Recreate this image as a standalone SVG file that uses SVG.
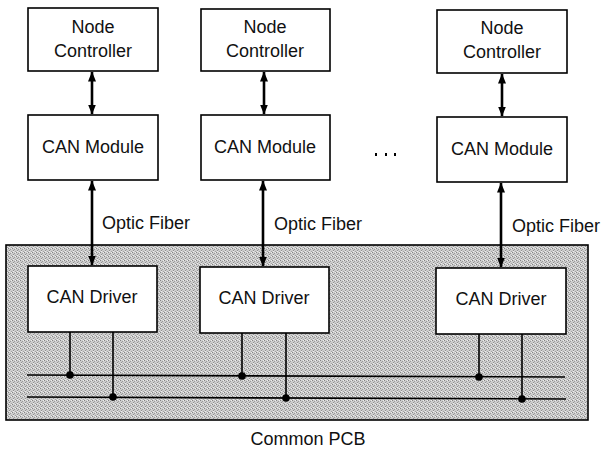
<svg xmlns="http://www.w3.org/2000/svg" width="606" height="452" viewBox="0 0 606 452">
  <style>
    .box { fill: #ffffff; stroke: #000000; stroke-width: 1.6; }
    .lbl { font-family: "Liberation Sans", Arial, sans-serif; font-size: 18px; fill: #111111; text-anchor: middle; }
    .side { font-family: "Liberation Sans", Arial, sans-serif; font-size: 18px; fill: #111111; }
    .link { stroke: #000000; stroke-width: 2.6; fill: none; marker-start: url(#head); marker-end: url(#head); }
    .wire { stroke: #000000; stroke-width: 1.6; fill: none; }
    .tap { fill: #000000; }
  </style>
  <defs>
    <marker id="head" viewBox="0 0 10 8" refX="9.5" refY="4" markerWidth="10" markerHeight="8" markerUnits="userSpaceOnUse" orient="auto-start-reverse">
      <path d="M0,0 L10,4 L0,8 Z" fill="#000000"/>
    </marker>
    <!-- fine halftone texture for the board area -->
    <pattern id="halftone" width="4" height="4" patternUnits="userSpaceOnUse">
      <rect width="4" height="4" fill="#cdcdcd"/>
      <rect x="0" y="0" width="1" height="1" fill="#858585"/>
      <rect x="2" y="1" width="1" height="1" fill="#9a9a9a"/>
      <rect x="1" y="2" width="1" height="1" fill="#909090"/>
      <rect x="3" y="3" width="1" height="1" fill="#a2a2a2"/>
      <rect x="3" y="0" width="1" height="1" fill="#eeeeee"/>
      <rect x="1" y="3" width="1" height="1" fill="#ececec"/>
    </pattern>
  </defs>

  <rect width="606" height="452" fill="#ffffff"/>

  <!-- common board -->
  <g id="pcb">
    <rect x="6" y="245" width="582" height="175" fill="url(#halftone)" stroke="#000000" stroke-width="1.6"/>
    <text class="lbl" x="308" y="445">Common PCB</text>
  </g>

  <!-- column 1 -->
  <g id="nc1">
    <rect class="box" x="28" y="8" width="130" height="63"/>
    <text class="lbl" x="93" y="33">Node</text>
    <text class="lbl" x="93" y="57">Controller</text>
  </g>
  <g id="cm1">
    <rect class="box" x="28" y="115" width="130" height="65"/>
    <text class="lbl" x="93" y="153">CAN Module</text>
  </g>
  <g id="cd1">
    <rect class="box" x="28" y="266" width="129" height="66"/>
    <text class="lbl" x="92" y="303">CAN Driver</text>
  </g>

  <!-- column 2 -->
  <g id="nc2">
    <rect class="box" x="201" y="9" width="129" height="62"/>
    <text class="lbl" x="265" y="33">Node</text>
    <text class="lbl" x="265" y="57">Controller</text>
  </g>
  <g id="cm2">
    <rect class="box" x="201" y="115" width="129" height="65"/>
    <text class="lbl" x="265" y="153">CAN Module</text>
  </g>
  <g id="cd2">
    <rect class="box" x="200" y="267" width="129" height="66"/>
    <text class="lbl" x="264" y="304">CAN Driver</text>
  </g>

  <!-- column 3 -->
  <g id="nc3">
    <rect class="box" x="437" y="10" width="130" height="63"/>
    <text class="lbl" x="502" y="34">Node</text>
    <text class="lbl" x="502" y="58">Controller</text>
  </g>
  <g id="cm3">
    <rect class="box" x="437" y="117" width="130" height="65"/>
    <text class="lbl" x="502" y="155">CAN Module</text>
  </g>
  <g id="cd3">
    <rect class="box" x="436" y="268" width="130" height="66"/>
    <text class="lbl" x="501" y="305">CAN Driver</text>
  </g>

  <!-- ellipsis between columns -->
  <g id="more">
    <rect class="tap" x="375" y="153" width="2" height="3"/>
    <rect class="tap" x="385" y="153" width="2" height="3"/>
    <rect class="tap" x="394" y="153" width="2" height="3"/>
  </g>

  <!-- connectors -->
  <g id="connectors">
    <line class="link" x1="92" y1="72" x2="92" y2="114"/>
    <line class="link" x1="264" y1="72" x2="264" y2="114"/>
    <line class="link" x1="502" y1="74" x2="502" y2="116"/>

    <line class="link" x1="92" y1="181" x2="92" y2="265"/>
    <line class="link" x1="263" y1="181" x2="263" y2="266"/>
    <line class="link" x1="501" y1="183" x2="501" y2="267"/>
    <text class="side" x="102" y="229">Optic Fiber</text>
    <text class="side" x="274" y="230">Optic Fiber</text>
    <text class="side" x="512" y="232">Optic Fiber</text>

    <!-- two-wire bus -->
    <line class="wire" x1="27" y1="375" x2="565" y2="377"/>
    <line class="wire" x1="27" y1="397" x2="566" y2="399"/>

    <line class="wire" x1="70" y1="332" x2="70" y2="375"/>
    <line class="wire" x1="113" y1="332" x2="113" y2="397"/>
    <line class="wire" x1="242" y1="333" x2="242" y2="376"/>
    <line class="wire" x1="286" y1="333" x2="286" y2="398"/>
    <line class="wire" x1="479" y1="334" x2="479" y2="377"/>
    <line class="wire" x1="522" y1="334" x2="522" y2="399"/>

    <circle class="tap" cx="70" cy="375" r="3.8"/>
    <circle class="tap" cx="113" cy="397" r="3.8"/>
    <circle class="tap" cx="242" cy="376" r="3.8"/>
    <circle class="tap" cx="286" cy="398" r="3.8"/>
    <circle class="tap" cx="479" cy="377" r="3.8"/>
    <circle class="tap" cx="522" cy="399" r="3.8"/>
  </g>
</svg>
